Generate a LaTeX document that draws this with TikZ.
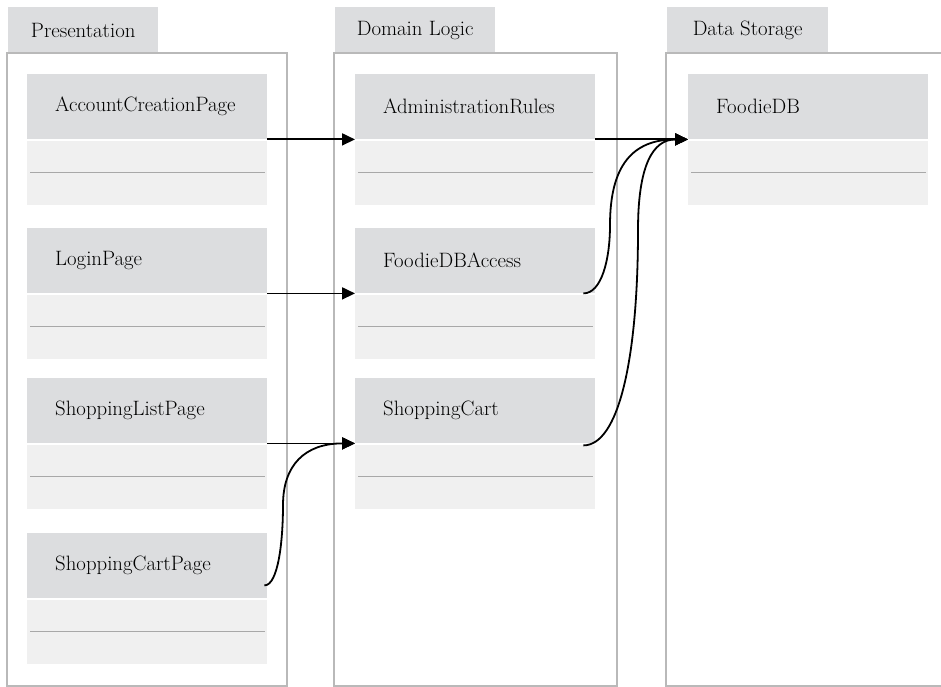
\documentclass[tikz,border=0pt]{standalone}
\usetikzlibrary{arrows.meta}
\definecolor{headgray}{RGB}{220,221,223}
\definecolor{bodygray}{RGB}{240,240,240}
\definecolor{framegray}{RGB}{185,185,185}
\definecolor{rulegray}{RGB}{168,168,168}
\tikzset{
  tab/.style={anchor=north west, fill=headgray, minimum width=150pt, minimum height=46pt,
    inner sep=0pt, font=\fontsize{20.8}{24}\selectfont},
  head/.style={anchor=north west, fill=headgray, minimum height=65pt, text width=184pt,
    inner xsep=28pt, inner ysep=0pt, align=left, font=\fontsize{20.8}{24}\selectfont},
  body/.style={anchor=north west, fill=bodygray, minimum width=240pt, minimum height=64pt,
    inner sep=0pt},
  panel/.style={draw=framegray, line width=1.2pt},
  sep/.style={draw=rulegray, line width=1pt, dash pattern=on 1.5pt off 0.5pt},
}
\begin{document}
\begin{tikzpicture}[x=1pt,y=-1pt]
      \useasboundingbox (0,0) rectangle (941,687);
      \path
        (8,7) node[tab] (prestab){Presentation}
        (335,7) node[tab, minimum width=160pt] (logictab){Domain Logic}
        (667,7) node[tab, minimum width=161pt] (storetab){Data Storage};
      \draw[panel] (7,53) rectangle (287,686);
      \draw[panel] (334,53) rectangle (617,686);
      \draw[panel] (945,53) -| (666,686) -- (945,686);
      \path
        (27,74) node[head] (acp){AccountCreationPage}
        (27,228) node[head] (login){LoginPage}
        (27,378) node[head] (slp){ShoppingListPage}
        (27,533) node[head] (scp){ShoppingCartPage}
        (355,74) node[head] (admin){AdministrationRules}
        (355,228) node[head] (dbaccess){FoodieDBAccess}
        (355,378) node[head] (cart){ShoppingCart}
        (688,74) node[head] (foodiedb){FoodieDB};
      \path
        ([yshift=-1pt]acp.south west) node[body] (acpbody){}
        ([yshift=-1pt]login.south west) node[body] (loginbody){}
        ([yshift=-1pt]slp.south west) node[body] (slpbody){}
        ([yshift=-1pt]scp.south west) node[body] (scpbody){}
        ([yshift=-1pt]admin.south west) node[body] (adminbody){}
        ([yshift=-1pt]dbaccess.south west) node[body] (dbaccessbody){}
        ([yshift=-1pt]cart.south west) node[body] (cartbody){}
        ([yshift=-1pt]foodiedb.south west) node[body] (foodiedbbody){};
      \begin{scope}[sep]
        \draw ([xshift=3pt]acpbody.west) -- ([xshift=-3pt]acpbody.east);
        \draw ([xshift=3pt]loginbody.west) -- ([xshift=-3pt]loginbody.east);
        \draw ([xshift=3pt]slpbody.west) -- ([xshift=-3pt]slpbody.east);
        \draw ([xshift=3pt]scpbody.west) -- ([xshift=-3pt]scpbody.east);
        \draw ([xshift=3pt]adminbody.west) -- ([xshift=-3pt]adminbody.east);
        \draw ([xshift=3pt]dbaccessbody.west) -- ([xshift=-3pt]dbaccessbody.east);
        \draw ([xshift=3pt]cartbody.west) -- ([xshift=-3pt]cartbody.east);
        \draw ([xshift=3pt]foodiedbbody.west) -- ([xshift=-3pt]foodiedbbody.east);
      \end{scope}
      \coordinate (scpbend) at (283,505);
      \coordinate (accessbend) at (610,225);
      \coordinate (cartbend) at (638,230);
      \begin{scope}[line width=1.8pt, -{Triangle[length=13pt,width=12pt]}]
        \draw (acp.south east) to (admin.south west);
        \draw (login.south east) to (dbaccess.south west);
        \draw (slp.south east) to (cart.south west);
        \draw ([xshift=-3pt,yshift=13pt]scp.south east)
          to[out=0, in=-90, out distance=14pt, in distance=35pt] (scpbend)
          to[out=90, in=180, out distance=40pt, in distance=50pt] (cart.south west);
        \draw (admin.south east) to (foodiedb.south west);
        \draw ([xshift=-12pt]dbaccess.south east)
          to[out=0, in=-90, out distance=18pt, in distance=35pt] (accessbend)
          to[out=90, in=180, out distance=60pt, in distance=55pt] (foodiedb.south west);
        \draw ([xshift=-12pt,yshift=-2pt]cart.south east)
          to[out=0, in=-90, out distance=35pt, in distance=130pt] (cartbend)
          to[out=90, in=180, out distance=65pt, in distance=35pt] (foodiedb.south west);
      \end{scope}
    \end{tikzpicture}
\end{document}
